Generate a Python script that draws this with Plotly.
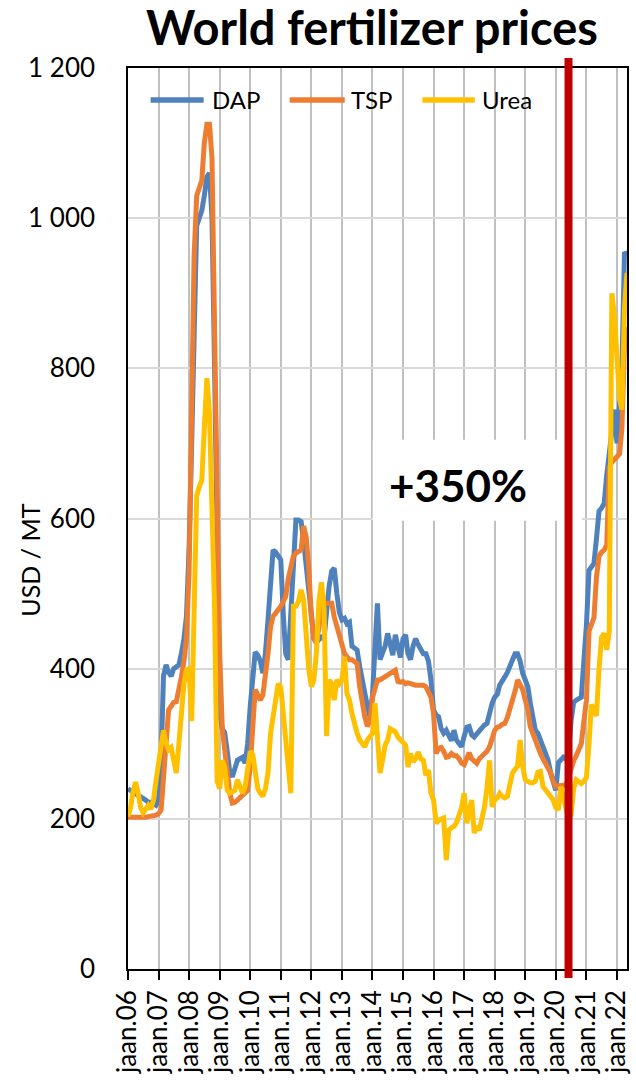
import pandas as pd
import plotly.graph_objects as go

# ---------------- data ----------------
months = pd.date_range("2006-01-01", periods=197, freq="MS")

dap = [
    240, 238, 236, 233, 231, 229, 227, 225, 222, 222, 220, 218,   # 2006
    225, 280, 390, 405, 395, 390, 400, 402, 405, 420, 440, 470,   # 2007
    560, 700, 870, 990, 1000, 1010, 1030, 1055, 1060, 1000, 800, 560,  # 2008
    340, 320, 315, 290, 262, 256, 270, 278, 280, 282, 274, 300,   # 2009
    350, 400, 422, 418, 410, 394, 420, 465, 520, 558, 555, 549,   # 2010
    545, 470, 420, 412, 480, 560, 598, 598, 596, 570, 536, 500,   # 2011
    469, 440, 435, 440, 442, 440, 480, 510, 530, 534, 500, 475,   # 2012
    465, 467, 460, 462, 430, 427, 425, 403, 383, 370, 350, 336,   # 2013
    365, 430, 487, 412, 420, 430, 447, 430, 418, 445, 430, 415,   # 2014
    440, 445, 420, 412, 430, 440, 432, 425, 420, 420, 410, 385,   # 2015
    345, 338, 336, 320, 314, 318, 310, 304, 318, 305, 300, 296,   # 2016
    310, 322, 323, 312, 309, 313, 318, 323, 325, 327, 345, 354,   # 2017
    362, 366, 378, 385, 389, 395, 403, 410, 420, 420, 410, 394,   # 2018
    385, 376, 355, 336, 318, 314, 305, 296, 285, 278, 261, 250,   # 2019
    238, 275, 279, 282, 280, 290, 330, 355, 358, 360, 362, 410,   # 2020
    458, 531, 536, 540, 573, 610, 614, 620, 658, 690, 716, 745,   # 2021
    700, 750, 800, 955, 950,                                      # 2022
]

tsp = [
    202, 202, 202, 201, 201, 202, 202, 202, 203, 203, 204, 205,
    207, 212, 250, 310, 345, 350, 355, 356, 370, 389, 410, 440,
    530, 720, 950, 1030, 1040, 1050, 1100, 1125, 1125, 1080, 850, 600,
    420, 320, 290, 262, 234, 221, 222, 225, 228, 230, 234, 238,
    270, 320, 372, 365, 358, 365, 389, 420, 456, 470, 474, 478,
    483, 490, 496, 520, 536, 550, 554, 556, 558, 590, 575, 536,
    470, 440, 434, 455, 478, 487, 487, 487, 487, 469, 456, 443,
    430, 420, 416, 412, 412, 410, 407, 376, 350, 336, 323, 330,
    361, 376, 385, 385, 387, 388, 390, 392, 396, 398, 383, 382,
    383, 380, 381, 380, 378, 378, 378, 378, 378, 376, 370, 362,
    340, 287, 294, 295, 290, 282, 283, 287, 284, 284, 280, 274,
    272, 282, 288, 280, 276, 274, 280, 283, 286, 290, 296, 308,
    318, 322, 323, 326, 327, 335, 345, 360, 370, 385, 378, 372,
    358, 345, 323, 313, 305, 296, 287, 280, 274, 268, 261, 250,
    243, 244, 244, 244, 245, 255, 268, 277, 284, 291, 300, 330,
    358, 450, 460, 468, 522, 550, 555, 558, 565, 668, 675, 679,
    682, 686, 720, 830, 855,
]

urea = [
    203, 215, 235, 249, 235, 215, 208, 212, 218, 213, 225, 250,
    275, 300, 318, 300, 292, 295, 275, 261, 300, 345, 380, 398,
    400, 330, 470, 630, 642, 651, 720, 787, 740, 625, 480, 250,
    240, 278, 269, 238, 234, 236, 238, 252, 240, 234, 243, 270,
    290, 285, 260, 240, 234, 230, 240, 261, 314, 340, 358, 380,
    375, 340, 296, 260, 234, 483, 483, 490, 505, 492, 438, 400,
    376, 385, 420, 490, 515, 480, 310, 385, 380, 358, 385, 380,
    385, 416, 367, 358, 340, 323, 314, 305, 300, 296, 305, 309,
    314, 354, 305, 261, 278, 298, 305, 320, 318, 316, 309, 305,
    300, 298, 269, 287, 276, 280, 289, 280, 278, 258, 265, 234,
    225, 194, 198, 199, 201, 145, 185, 188, 190, 195, 207, 215,
    234, 194, 210, 225, 181, 190, 185, 198, 216, 242, 278, 216,
    225, 228, 234, 230, 228, 230, 250, 261, 266, 270, 305, 270,
    252, 250, 248, 248, 250, 262, 263, 243, 238, 234, 228, 225,
    215, 212, 243, 230, 215, 200, 205, 240, 252, 250, 247, 250,
    255, 300, 352, 345, 337, 400, 442, 447, 425, 450, 900, 870,
    820, 760, 745, 880, 927,
]

series_names = ["DAP", "TSP", "Urea"]
series_colors = ["#4F81BD", "#ED7D31", "#FFC000"]
series_values = [dap, tsp, urea]

tick_years = list(range(2006, 2023))
tick_labels = [f"jaan.{y % 100:02d}" for y in tick_years]

y_ticks = [0, 200, 400, 600, 800, 1000, 1200]
y_labels = ["0", "200", "400", "600", "800", "1 000", "1 200"]

marker_date = "2020-06-01"
box_x = ["2014-01-04", "2020-11-06"]
box_y = [597, 705]
note_text = "+350%"
note_x = "2016-10-15"
note_y = 645

FONT = "Lato"

# ---------------- figure ----------------
fig = go.Figure()
for name, color, vals in zip(series_names, series_colors, series_values):
    fig.add_trace(go.Scatter(
        x=months, y=vals, name=name, mode="lines",
        line=dict(color=color, width=5),
        showlegend=False, hoverinfo="skip",
    ))

# white box behind label
fig.add_shape(type="rect", xref="x", yref="y",
              x0=box_x[0], x1=box_x[1], y0=box_y[0], y1=box_y[1],
              fillcolor="white", line=dict(width=0), layer="between")

# red marker line
fig.add_shape(type="line", xref="x", yref="paper",
              x0=marker_date, x1=marker_date, y0=-0.01, y1=1.011,
              line=dict(color="#C00000", width=8), layer="above")

fig.add_annotation(x=note_x, y=note_y, xref="x", yref="y", text=note_text,
                   showarrow=False,
                   font=dict(family=FONT, size=44, color="black", weight="bold"))

# custom legend (paper coords)
leg_items = [(0.0453, 0.1516, 0.1636), (0.3240, 0.4343, 0.4423), (0.5900, 0.6950, 0.7054)]
for (x0, x1, xt), name, color in zip(leg_items, series_names, series_colors):
    fig.add_shape(type="line", xref="paper", yref="paper", x0=x0, x1=x1,
                  y0=0.9645, y1=0.9645, line=dict(color=color, width=5.5), layer="above")
    fig.add_annotation(x=xt, y=0.9645, xref="paper", yref="paper", text=name,
                       showarrow=False, xanchor="left", yanchor="middle",
                       font=dict(family=FONT, size=24, color="black"))

# y-axis title
fig.add_annotation(x=-0.197, y=0.454, xref="paper", yref="paper", text="USD / MT",
                   showarrow=False, textangle=-90, xanchor="center", yanchor="middle",
                   font=dict(family=FONT, size=25, color="black"))

fig.update_layout(
    width=636, height=1090,
    margin=dict(l=128, r=9, t=68, b=121, autoexpand=False),
    paper_bgcolor="white", plot_bgcolor="white",
    title=dict(text="World fertilizer prices", x=0.585, xanchor="center",
               y=1 - 29 / 1090, yanchor="middle",
               font=dict(family=FONT, size=47, color="black", weight="bold")),
    font=dict(family=FONT, color="black"),
)

fig.update_xaxes(
    range=["2006-01-01", "2022-05-01"],
    tickvals=[f"{y}-01-01" for y in tick_years], ticktext=tick_labels,
    tickangle=-90, tickfont=dict(family=FONT, size=26, color="black"),
    ticks="outside", ticklen=9, tickwidth=1.5, tickcolor="black",
    showgrid=True, gridcolor="#C0C0C0", gridwidth=2,
    showline=True, linecolor="black", linewidth=1.5, mirror=True,
    zeroline=False, automargin=False,
)
fig.update_yaxes(
    range=[0, 1200], tickvals=y_ticks, ticktext=y_labels,
    tickfont=dict(family=FONT, size=26, color="black"),
    ticks="", ticklabelstandoff=26,
    showgrid=True, gridcolor="#D9D9D9", gridwidth=1.5,
    showline=True, linecolor="black", linewidth=1.5, mirror=True,
    zeroline=False, automargin=False,
)

fig.write_html("out.html", config={"displayModeBar": False},
               post_script="document.body.style.margin='0';document.body.style.overflow='hidden';")
